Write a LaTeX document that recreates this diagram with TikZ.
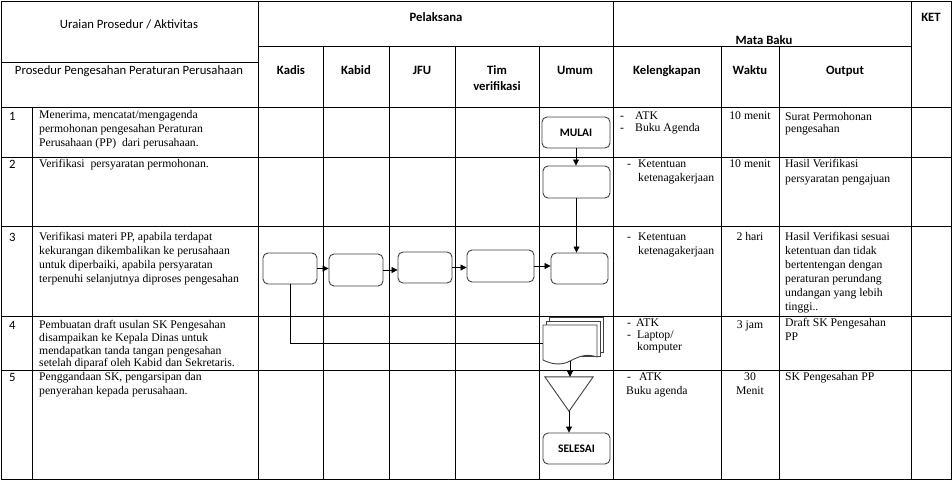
\documentclass[tikz,border=0pt]{standalone}
\usepackage{fontspec}
\setmainfont{Liberation Serif}
\newfontfamily\hdfont{Carlito}
\usetikzlibrary{arrows.meta}
\newcommand\itm[1][10pt]{\makebox[#1][l]{-}}
\tikzset{
  grid/.style={line width=0.9pt},
  hd/.style={font=\hdfont\fontsize{12.7}{14}\selectfont, inner sep=0pt, anchor=base},
  hdb/.style={hd, font=\hdfont\bfseries\fontsize{12.7}{14}\selectfont},
  num/.style={hd, anchor=base west},
  txt/.style={font=\fontsize{11.7}{14}\selectfont, align=left, inner sep=0pt, anchor=north west},
  mid/.style={txt, align=center, anchor=north},
  proc/.style={draw=black!75, line width=0.9pt, rounded corners=5pt, fill=white, inner sep=0pt,
    minimum width=#1, minimum height=31pt, font=\hdfont\bfseries\fontsize{11.5}{13}\selectfont},
  shp/.style={draw=black!75, line width=0.9pt, fill=white},
  flow/.style={line width=0.8pt, -{Triangle[length=6pt,width=6pt]}},
}
\begin{document}
\begin{tikzpicture}[x=1pt, y=-1pt]
  \useasboundingbox (0,0) rectangle (952,480);
  % table
  \draw[grid] (1,1) rectangle (951,479);
  \draw[grid] (258,1) -- (258,479) (613,1) -- (613,479) (911,1) -- (911,479);
  \draw[grid] (32,107) -- (32,479);
  \foreach \x in {323,389,455,539,721,779} \draw[grid] (\x,46) -- (\x,479);
  \draw[grid] (1,62) -- (258,62) (258,46) -- (911,46);
  \foreach \y in {107,157,226,316,370} \draw[grid] (1,\y) -- (951,\y);
  % header
  \node[hd] (hUraian) at (129,28.5) {Uraian Prosedur / Aktivitas};
  \node[hd] (hProsedur) at (129,74) {Prosedur Pengesahan Peraturan Perusahaan};
  \node[hdb] (hPelaksana) at (436,21.7) {Pelaksana};
  \node[hdb] (hMata) at (764,44) {Mata Baku};
  \node[hdb] (hKet) at (931,21.7) {KET};
  \node[hdb] (hKadis) at (291,74) {Kadis};
  \node[hdb] (hKabid) at (356,74) {Kabid};
  \node[hdb] (hJfu) at (422,74) {JFU};
  \node[hdb] (hTim) at (497,74) {Tim};
  \node[hdb] (hVer) at (497,90.7) {verifikasi};
  \node[hdb] (hUmum) at (575,74) {Umum};
  \node[hdb] (hKel) at (667,74) {Kelengkapan};
  \node[hdb] (hWaktu) at (750,74) {Waktu};
  \node[hdb] (hOutput) at (845,74) {Output};
  % rows
  \node[num] (n1) at (9,120) {1};
  \node[num] (n2) at (9,168) {2};
  \node[num] (n3) at (9,241) {3};
  \node[num] (n4) at (9,329) {4};
  \node[num] (n5) at (9,381) {5};
  \node[txt] (u1) at (39,110.5) {Menerima, mencatat/mengagenda\\permohonan pengesahan Peraturan\\Perusahaan (PP)~ dari perusahaan.};
  \node[txt] (u2) at (39,159.5) {Verifikasi~ persyaratan permohonan.};
  \node[txt] (u3) at (39,232.5) {Verifikasi materi PP, apabila terdapat\\kekurangan dikembalikan ke perusahaan\\untuk diperbaiki, apabila persyaratan\\terpenuhi selanjutnya diproses pengesahan};
  \node[txt] (u4) at (39,320) {Pembuatan draft usulan SK Pengesahan\\[-1pt]disampaikan ke Kepala Dinas untuk\\[-1pt]mendapatkan tanda tangan pengesahan\\[-1.5pt]setelah diparaf oleh Kabid dan Sekretaris.};
  \node[txt] (u5) at (39,372.5) {Penggandaan SK, pengarsipan dan\\penyerahan kepada perusahaan.};
  \node[txt] (k1) at (620,112) {\itm[15pt]ATK\\[-2pt]\itm[15pt]Buku Agenda};
  \node[txt] (k2) at (627,159.5) {\itm[11pt]Ketentuan\\\hspace*{11pt}ketenagakerjaan};
  \node[txt] (k3) at (627,232.5) {\itm[11pt]Ketentuan\\\hspace*{11pt}ketenagakerjaan};
  \node[txt] (k4) at (627,318.5) {\itm[9pt]ATK\\[-2pt]\itm[10pt]Laptop/\\[-2pt]\hspace*{10pt}komputer};
  \node[txt] (k5) at (626,372.5) {\hspace*{1pt}\itm[12pt]ATK\\Buku agenda};
  \node[mid] (w1) at (750,111.5) {10 menit};
  \node[mid] (w2) at (750,159.5) {10 menit};
  \node[mid] (w3) at (750,232.5) {2 hari};
  \node[mid] (w4) at (750,320.5) {3 jam};
  \node[mid] (w5) at (750,373) {30\\Menit};
  \node[txt] (o1) at (785,112.5) {Surat Permohonan\\[-2pt]pengesahan};
  \node[txt] (o2) at (785,159.5) {Hasil Verifikasi\\[1pt]persyaratan pengajuan};
  \node[txt] (o3) at (785,232.5) {Hasil Verifikasi sesuai\\ketentuan dan tidak\\bertentengan dengan\\peraturan perundang\\undangan yang lebih\\tinggi..};
  \node[txt] (o4) at (785,318.5) {Draft SK Pengesahan\\PP};
  \node[txt] (o5) at (785,372.5) {SK Pengesahan PP};
  % flow
  \node[proc=68pt] (mulai) at (576,132.5) {MULAI};
  \node[proc=67pt, minimum height=32pt] (umum2) at (576.5,182) {};
  \node[proc=54pt] (kadis3) at (290,268.5) {};
  \node[proc=54pt, minimum height=32pt] (kabid3) at (356,270) {};
  \node[proc=54pt] (jfu3) at (425,267.5) {};
  \node[proc=67pt, minimum height=32pt] (tim3) at (500.5,266) {};
  \node[proc=57pt] (umum3) at (579.5,268.5) {};
  \node[inner sep=0pt, minimum width=54pt, minimum height=36pt] (doc) at (570,343) {};
  \node[inner sep=0pt, minimum width=48pt, minimum height=34pt] (merge) at (569,394) {};
  \node[proc=67pt] (selesai) at (576.5,448.5) {SELESAI};
  \draw[shp, shift={(doc.center)}] (-21,-26) rectangle (33,9);
  \draw[shp, shift={(doc.center)}] (-24,-22) rectangle (30,13);
  \draw[shp, shift={(doc.center)}] (-27,-18) -- (27,-18) -- (27,14)
    .. controls (16,10) and (8,14) .. (0,18) .. controls (-9,23) and (-19,21) .. (-27,17) -- cycle;
  \draw[shp] (merge.north west) -- (merge.north east) -- (merge.south) -- cycle;
  \draw[flow] (mulai.south) -- (mulai.south |- umum2.north);
  \draw[flow] (umum2.south) -- (umum2.south |- umum3.north);
  \draw[flow] (kadis3.east) -- (kadis3.east -| kabid3.west);
  \draw[flow] (kabid3.east) -- (kabid3.east -| jfu3.west);
  \draw[flow] (jfu3.east) -- (jfu3.east -| tim3.west);
  \draw[flow] (tim3.east) -- (tim3.east -| umum3.west);
  \draw[line width=0.8pt] (kadis3.south) |- (doc.west);
  \draw[flow] (doc.south) -- (doc.south |- merge.north);
  \draw[flow] (merge.south) -- (merge.south |- selesai.north);
\end{tikzpicture}
\end{document}
